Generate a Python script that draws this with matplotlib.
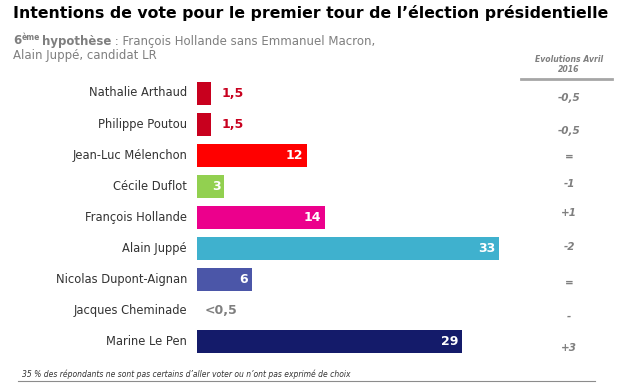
import matplotlib.pyplot as plt

W, H = 619, 389

candidats = ['Nathalie Arthaud', 'Philippe Poutou', 'Jean-Luc Mélenchon', 'Cécile Duflot',
             'François Hollande', 'Alain Juppé', 'Nicolas Dupont-Aignan', 'Jacques Cheminade',
             'Marine Le Pen']
scores = [1.5, 1.5, 12, 3, 14, 33, 6, 0, 29]
etiquettes = ['1,5', '1,5', '12', '3', '14', '33', '6', '<0,5', '29']
evolutions = ['-0,5', '-0,5', '=', '-1', '+1', '-2', '=', '-', '+3']
couleurs = ['#C8001E', '#C8001E', '#FF0000', '#92D050', '#EC008C', '#3FB1CE', '#4B56A8',
            '#FFFFFF', '#141B6A']

gris = '#7F7F7F'


def fx(px):
    return px / W


def fy(py):
    return 1 - py / H


fig = plt.figure(figsize=(W / 100, H / 100), dpi=100)

# zone des barres : 9,15 px par point
ax = fig.add_axes([fx(197), fy(357.5), 9.15 * 40 / W, (357.5 - 77.5) / H])
ax.set_xlim(0, 40)
ax.set_ylim(len(candidats) - 0.5, -0.5)
ax.axis('off')

y = list(range(len(candidats)))
ax.barh(y, scores, height=0.74, color=couleurs, edgecolor='none')

for i, (v, lab) in enumerate(zip(scores, etiquettes)):
    if v == 0:
        ax.text(0.8, i, lab, ha='left', va='center', color=gris, fontsize=9,
                fontweight='bold')
    elif v < 2:
        ax.text(v + 1.2, i, lab, ha='left', va='center', color='#C8001E', fontsize=9,
                fontweight='bold')
    else:
        ax.text(v - 0.4, i, lab, ha='right', va='center', color='white', fontsize=9,
                fontweight='bold')

# noms des candidats
for i, nom in enumerate(candidats):
    fig.text(fx(187), fy(93 + 31.1 * i), nom, ha='right', va='center', fontsize=8.3,
             color='#333333')

# colonne des évolutions
evo_y = [98, 131, 157, 184, 213, 247, 283, 317, 348]
for e, yy in zip(evolutions, evo_y):
    fig.text(fx(569), fy(yy), e, ha='center', va='center', fontsize=7.5,
             fontweight='bold', fontstyle='italic', color=gris)

fig.text(fx(569), fy(59), 'Evolutions Avril', ha='center', va='center', fontsize=5.6,
         fontweight='bold', fontstyle='italic', color=gris)
fig.text(fx(569), fy(70), '2016', ha='center', va='center', fontsize=5.6,
         fontweight='bold', fontstyle='italic', color=gris)
fig.add_artist(plt.Line2D([fx(521), fx(612)], [fy(79), fy(79)], color='#A6A6A6', lw=2))

# titre
fig.text(fx(13), fy(13), 'Intentions de vote pour le premier tour de l\u2019élection présidentielle',
         ha='left', va='center', fontsize=11.3, fontweight='bold', color='black')

# sous-titre en morceaux enchaînés
renderer = fig.canvas.get_renderer()
morceaux = [('6', 8.5, 'bold', 41, 0), ('ème', 5.5, 'bold', 37, 2),
            ('hypothèse', 8.5, 'bold', 41, 0),
            (' : François Hollande sans Emmanuel Macron,', 8.5, 'normal', 41, 0)]
x = 13
for txt, taille, poids, yy, ecart in morceaux:
    t = fig.text(fx(x), fy(yy), txt, ha='left', va='center', fontsize=taille,
                 fontweight=poids, color=gris)
    x = t.get_window_extent(renderer).x1 + ecart
fig.text(fx(13), fy(56), 'Alain Juppé, candidat LR', ha='left', va='center', fontsize=8.5,
         color=gris)

# note de bas de page
fig.text(fx(22), fy(374), '35 % des répondants ne sont pas certains d\u2019aller voter ou n\u2019ont pas exprimé de choix',
         ha='left', va='center', fontsize=5.5, fontstyle='italic', color='#333333')
fig.add_artist(plt.Line2D([fx(18), fx(595)], [fy(381), fy(381)], color='#8C8C8C', lw=0.8))

fig.savefig('out.png', dpi=100)
